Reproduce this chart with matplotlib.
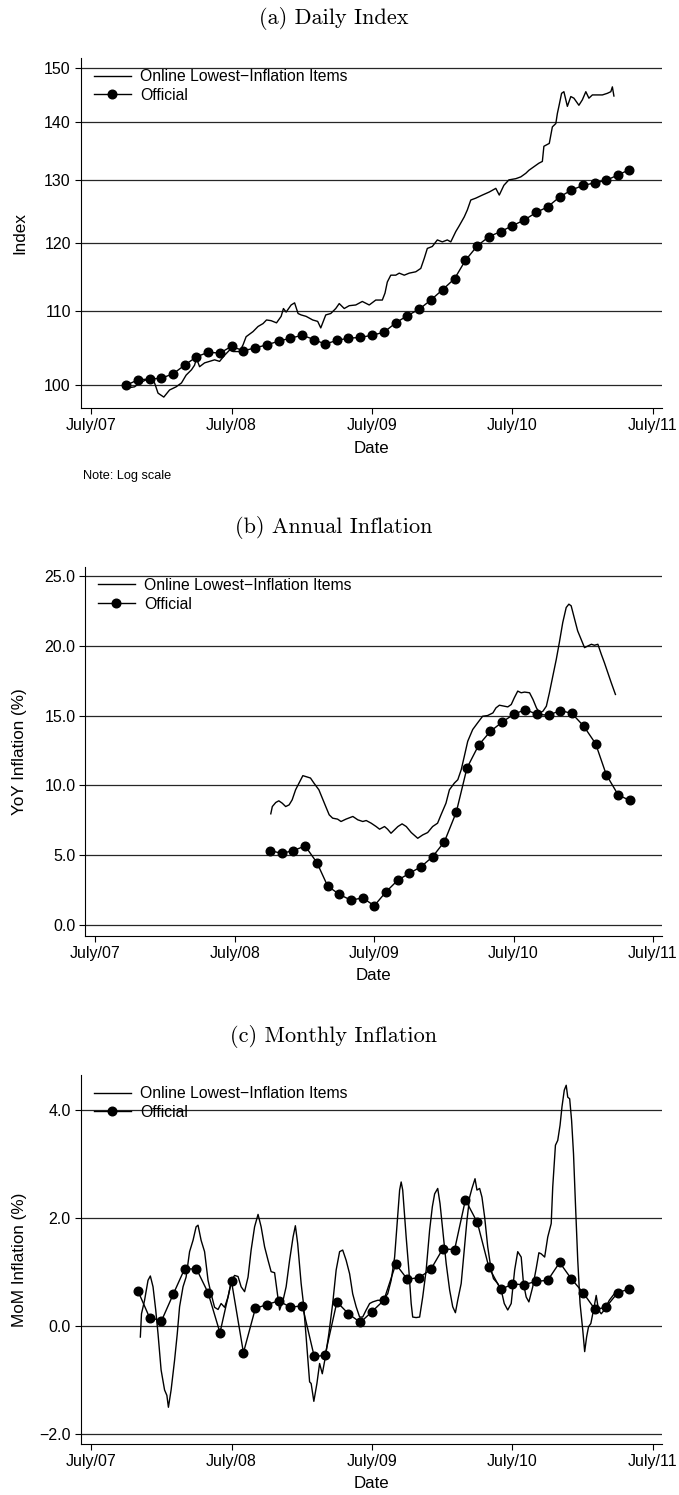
import matplotlib
matplotlib.use('Agg')
import matplotlib.pyplot as plt
from matplotlib.ticker import FixedLocator, FixedFormatter, NullLocator
import pandas as pd
from datetime import datetime

plt.rcParams['font.family'] = ['Liberation Sans', 'DejaVu Sans']

W, H = 679, 1495

# ---------------- data ----------------
x_tick_dates = ['2007-07-01', '2008-07-01', '2009-07-01', '2010-07-01', '2011-07-01']
x_tick_labels = ['July/07', 'July/08', 'July/09', 'July/10', 'July/11']

# (a) daily index, online (log scale)
index_dates = [
    '2007-10-01', '2007-10-10', '2007-10-23', '2007-11-05', '2007-12-01', '2007-12-14',
    '2007-12-23', '2008-01-07', '2008-01-22', '2008-02-08', '2008-02-22', '2008-03-05',
    '2008-03-19', '2008-03-27', '2008-04-01', '2008-04-09', '2008-04-22', '2008-05-05',
    '2008-05-18', '2008-05-31', '2008-06-13', '2008-06-26', '2008-07-05', '2008-07-22',
    '2008-07-31', '2008-08-08', '2008-08-26', '2008-09-08', '2008-09-21', '2008-09-30',
    '2008-10-12', '2008-10-26', '2008-11-07', '2008-11-13', '2008-11-20', '2008-12-03',
    '2008-12-12', '2008-12-21', '2008-12-29', '2009-01-11', '2009-01-28', '2009-02-10',
    '2009-02-18', '2009-03-03', '2009-03-16', '2009-03-29', '2009-04-07', '2009-04-20',
    '2009-05-03', '2009-05-20', '2009-06-06', '2009-06-24', '2009-07-11', '2009-07-28',
    '2009-08-04', '2009-08-10', '2009-08-19', '2009-09-01', '2009-09-10', '2009-09-23',
    '2009-10-06', '2009-10-23', '2009-11-05', '2009-11-14', '2009-11-22', '2009-12-05',
    '2009-12-18', '2009-12-31', '2010-01-13', '2010-01-22', '2010-02-04', '2010-02-12',
    '2010-02-26', '2010-03-06', '2010-03-15', '2010-03-28', '2010-04-14', '2010-05-02',
    '2010-05-19', '2010-05-28', '2010-06-09', '2010-06-22', '2010-07-10', '2010-07-23',
    '2010-08-05', '2010-08-13', '2010-08-26', '2010-09-08', '2010-09-17', '2010-09-21',
    '2010-10-05', '2010-10-13', '2010-10-22', '2010-10-26', '2010-10-30', '2010-11-06',
    '2010-11-12', '2010-11-21', '2010-11-30', '2010-12-08', '2010-12-21', '2010-12-30',
    '2011-01-08', '2011-01-16', '2011-01-25', '2011-02-07', '2011-02-20', '2011-03-05',
    '2011-03-14', '2011-03-18', '2011-03-22']
index_online = [
    100.0, 99.7, 99.8, 100.3, 100.9, 100.3,
    99.0, 98.5, 99.4, 99.8, 100.3, 101.3,
    102.0, 102.6, 103.5, 102.4, 102.9, 103.1,
    103.3, 103.1, 103.9, 104.6, 104.4, 104.4,
    105.3, 106.4, 107.1, 107.8, 108.2, 108.7,
    108.6, 108.3, 109.2, 110.3, 109.8, 110.8,
    111.1, 109.6, 109.4, 109.2, 108.7, 108.5,
    107.6, 109.4, 109.6, 110.3, 111.0, 110.3,
    110.7, 110.8, 111.3, 110.8, 111.5, 111.5,
    112.5, 114.1, 115.1, 115.1, 115.4, 115.1,
    115.4, 115.6, 116.1, 117.6, 119.1, 119.4,
    120.4, 120.1, 120.4, 120.1, 121.7, 122.5,
    124.0, 125.1, 126.7, 127.0, 127.5, 128.0,
    128.6, 127.5, 129.1, 130.0, 130.2, 130.5,
    131.1, 131.6, 132.2, 132.8, 133.1, 135.7,
    136.2, 139.1, 139.7, 141.5, 142.8, 145.2,
    145.5, 142.8, 144.6, 144.3, 143.0, 144.0,
    145.5, 144.3, 144.9, 144.9, 144.9, 145.2,
    145.5, 146.4, 144.7]
index_official_start = '2007-10-01'
index_official = [
    100.0, 100.7, 100.8, 100.9, 101.5, 102.6, 103.7, 104.3, 104.2, 105.1, 104.5,
    104.9, 105.3, 105.8, 106.2, 106.6, 106.0, 105.4, 105.9, 106.2, 106.3, 106.6,
    107.0, 108.3, 109.3, 110.2, 111.5, 113.0, 114.6, 117.3, 119.5, 120.9, 121.7,
    122.6, 123.5, 124.7, 125.6, 127.2, 128.3, 129.1, 129.5, 129.9, 130.8, 131.7]
index_ticks = [100, 110, 120, 130, 140, 150]
index_tick_labels = ['100', '110', '120', '130', '140', '150']

# (b) annual inflation
yoy_dates = [
    '2008-10-03', '2008-10-07', '2008-10-16', '2008-10-24', '2008-11-02', '2008-11-11',
    '2008-11-20', '2008-11-28', '2008-12-07', '2008-12-16', '2008-12-26', '2009-01-07',
    '2009-01-15', '2009-01-24', '2009-02-06', '2009-02-15', '2009-02-24', '2009-03-05',
    '2009-03-14', '2009-03-27', '2009-04-05', '2009-04-18', '2009-05-06', '2009-05-19',
    '2009-06-01', '2009-06-10', '2009-06-23', '2009-07-06', '2009-07-15', '2009-07-28',
    '2009-08-05', '2009-08-14', '2009-08-23', '2009-09-01', '2009-09-12', '2009-09-23',
    '2009-10-06', '2009-10-23', '2009-11-05', '2009-11-18', '2009-12-01', '2009-12-14',
    '2009-12-23', '2010-01-05', '2010-01-14', '2010-01-27', '2010-02-05', '2010-02-14',
    '2010-02-22', '2010-03-03', '2010-03-16', '2010-03-29', '2010-04-11', '2010-04-24',
    '2010-05-08', '2010-05-16', '2010-05-25', '2010-06-07', '2010-06-16', '2010-06-25',
    '2010-07-03', '2010-07-12', '2010-07-21', '2010-07-30', '2010-08-12', '2010-08-21',
    '2010-08-30', '2010-09-07', '2010-09-16', '2010-09-25', '2010-10-03', '2010-10-12',
    '2010-10-21', '2010-10-29', '2010-11-07', '2010-11-16', '2010-11-23', '2010-11-29',
    '2010-12-08', '2010-12-16', '2010-12-25', '2011-01-03', '2011-01-12', '2011-01-21',
    '2011-01-29', '2011-02-07', '2011-02-16', '2011-02-24', '2011-03-05', '2011-03-14',
    '2011-03-25']
yoy_online = [
    7.97, 8.49, 8.78, 8.90, 8.73, 8.49,
    8.61, 8.97, 9.69, 10.17, 10.70, 10.60,
    10.53, 10.17, 9.69, 9.09, 8.49, 7.90,
    7.66, 7.59, 7.42, 7.59, 7.78, 7.54,
    7.42, 7.49, 7.30, 7.06, 6.87, 7.06,
    6.87, 6.58, 6.82, 7.06, 7.25, 7.06,
    6.63, 6.22, 6.46, 6.63, 7.06, 7.30,
    7.90, 8.73, 9.69, 10.17, 10.41, 11.13,
    12.08, 13.16, 14.00, 14.48, 14.95, 15.00,
    15.19, 15.55, 15.74, 15.67, 15.62, 15.79,
    16.27, 16.75, 16.63, 16.68, 16.63, 16.15,
    15.55, 15.19, 15.31, 15.67, 16.63, 17.83,
    19.02, 20.22, 21.66, 22.73, 22.97, 22.85,
    21.90, 21.06, 20.46, 19.86, 19.98, 20.10,
    20.03, 20.10, 19.38, 18.79, 18.07, 17.35,
    16.51]
yoy_official_start = '2008-10-01'
yoy_official = [
    5.34, 5.14, 5.34, 5.67, 4.47, 2.80, 2.20, 1.79, 1.96, 1.39, 2.39,
    3.23, 3.71, 4.19, 4.90, 5.98, 8.09, 11.25, 12.90, 13.86, 14.53, 15.08,
    15.43, 15.08, 15.03, 15.36, 15.15, 14.24, 12.99, 10.77, 9.33, 8.93]
yoy_ticks = [0, 5, 10, 15, 20, 25]
yoy_tick_labels = ['0.0', '5.0', '10.0', '15.0', '20.0', '25.0']

# (c) monthly inflation
mom_dates = [
    '2007-11-07', '2007-11-10', '2007-11-18', '2007-11-27', '2007-12-03', '2007-12-10',
    '2007-12-17', '2007-12-23', '2007-12-31', '2008-01-09', '2008-01-15', '2008-01-19',
    '2008-01-26', '2008-02-04', '2008-02-11', '2008-02-17', '2008-02-26', '2008-03-05',
    '2008-03-14', '2008-03-23', '2008-03-31', '2008-04-05', '2008-04-13', '2008-04-22',
    '2008-05-01', '2008-05-09', '2008-05-18', '2008-05-27', '2008-06-04', '2008-06-13',
    '2008-06-22', '2008-07-01', '2008-07-09', '2008-07-18', '2008-07-26', '2008-08-04',
    '2008-08-13', '2008-08-21', '2008-08-30', '2008-09-08', '2008-09-16', '2008-09-25',
    '2008-10-04', '2008-10-12', '2008-10-21', '2008-11-03', '2008-11-12', '2008-11-20',
    '2008-11-29', '2008-12-08', '2008-12-14', '2008-12-20', '2008-12-29', '2009-01-04',
    '2009-01-11', '2009-01-20', '2009-01-24', '2009-01-31', '2009-02-08', '2009-02-15',
    '2009-02-22', '2009-03-02', '2009-03-11', '2009-03-21', '2009-03-30', '2009-04-08',
    '2009-04-16', '2009-04-25', '2009-05-04', '2009-05-12', '2009-05-21', '2009-05-30',
    '2009-06-07', '2009-06-16', '2009-06-25', '2009-07-03', '2009-07-16', '2009-07-29',
    '2009-08-11', '2009-08-20', '2009-08-29', '2009-09-05', '2009-09-11', '2009-09-15',
    '2009-09-19', '2009-09-28', '2009-10-05', '2009-10-11', '2009-10-15', '2009-10-24',
    '2009-11-02', '2009-11-10', '2009-11-19', '2009-11-28', '2009-12-05', '2009-12-11',
    '2009-12-19', '2009-12-25', '2010-01-01', '2010-01-10', '2010-01-19', '2010-01-27',
    '2010-02-03', '2010-02-09', '2010-02-18', '2010-02-25', '2010-03-05', '2010-03-12',
    '2010-03-18', '2010-03-26', '2010-03-31', '2010-04-07', '2010-04-13', '2010-04-20',
    '2010-04-28', '2010-05-07', '2010-05-13', '2010-05-24', '2010-06-02', '2010-06-10',
    '2010-06-19', '2010-06-28', '2010-07-07', '2010-07-15', '2010-07-24', '2010-07-30',
    '2010-08-06', '2010-08-13', '2010-08-23', '2010-09-01', '2010-09-08', '2010-09-14',
    '2010-09-23', '2010-10-01', '2010-10-10', '2010-10-14', '2010-10-21', '2010-10-27',
    '2010-11-02', '2010-11-07', '2010-11-13', '2010-11-18', '2010-11-22', '2010-11-27',
    '2010-12-02', '2010-12-07', '2010-12-12', '2010-12-18', '2010-12-24', '2010-12-31',
    '2011-01-05', '2011-01-10', '2011-01-15', '2011-01-21', '2011-01-28', '2011-02-04',
    '2011-02-10', '2011-02-17', '2011-02-25', '2011-03-10', '2011-03-23']
mom_online = [
    -0.20, 0.23, 0.48, 0.85, 0.93, 0.73,
    0.30, -0.14, -0.81, -1.18, -1.28, -1.50,
    -1.18, -0.63, -0.14, 0.36, 0.73, 0.91,
    1.38, 1.59, 1.84, 1.87, 1.59, 1.38,
    0.85, 0.60, 0.35, 0.31, 0.42, 0.35,
    0.54, 0.85, 0.94, 0.92, 0.73, 0.64,
    0.91, 1.41, 1.84, 2.07, 1.84, 1.47,
    1.22, 1.01, 0.99, 0.30, 0.48, 0.73,
    1.22, 1.65, 1.86, 1.53, 0.79, 0.42,
    -0.20, -1.03, -1.06, -1.39, -1.06, -0.69,
    -0.88, -0.57, -0.14, 0.42, 1.04, 1.38,
    1.41, 1.22, 0.97, 0.60, 0.36, 0.17,
    0.17, 0.30, 0.42, 0.45, 0.48, 0.48,
    0.60, 0.85, 1.28, 1.96, 2.52, 2.67,
    2.52, 1.65, 1.04, 0.42, 0.17, 0.16,
    0.17, 0.54, 1.04, 1.78, 2.21, 2.45,
    2.55, 2.27, 1.78, 1.16, 0.67, 0.36,
    0.25, 0.48, 0.79, 1.34, 1.96, 2.39,
    2.55, 2.73, 2.52, 2.55, 2.39, 2.02,
    1.47, 1.04, 0.88, 0.79, 0.67, 0.42,
    0.30, 0.42, 1.04, 1.38, 1.28, 0.79,
    0.54, 0.45, 0.73, 1.07, 1.36, 1.34,
    1.28, 1.65, 1.90, 2.58, 3.35, 3.44,
    3.72, 4.06, 4.37, 4.46, 4.24, 4.21,
    3.81, 3.19, 2.27, 1.22, 0.42, -0.07,
    -0.47, -0.20, -0.01, 0.05, 0.30, 0.57,
    0.30, 0.23, 0.30, 0.48, 0.60]
mom_official_start = '2007-11-01'
mom_official = [
    0.65, 0.16, 0.10, 0.60, 1.06, 1.06, 0.62, -0.12, 0.83, -0.49, 0.33,
    0.40, 0.47, 0.35, 0.38, -0.56, -0.54, 0.45, 0.23, 0.07, 0.27, 0.48,
    1.15, 0.87, 0.90, 1.05, 1.43, 1.42, 2.34, 1.92, 1.09, 0.68, 0.78,
    0.77, 0.83, 0.85, 1.18, 0.88, 0.62, 0.31, 0.35, 0.62, 0.69]
mom_ticks = [-2, 0, 2, 4]
mom_tick_labels = ['\u22122.0', '0.0', '2.0', '4.0']

online_label = 'Online Lowest\u2212Inflation Items'
official_label = 'Official'

fig = plt.figure(figsize=(W / 100, H / 100), dpi=100)


def draw_panel(rect, title, title_y, line_dates, line_vals, off_start, off_vals,
               yticks, ylabels, ylim, ylabel, log=False):
    l, t, r, b = rect
    ax = fig.add_axes([l / W, 1 - b / H, (r - l) / W, (b - t) / H])

    off_dates = pd.date_range(off_start, periods=len(off_vals), freq='MS')
    ax.plot(pd.to_datetime(line_dates), line_vals, color='black', lw=1.0, label=online_label)
    ax.plot(off_dates, off_vals, color='black', lw=1.0, marker='o', ms=6.2,
            label=official_label)

    if log:
        ax.set_yscale('log')
    ax.yaxis.set_major_locator(FixedLocator(yticks))
    ax.yaxis.set_major_formatter(FixedFormatter(ylabels))
    ax.yaxis.set_minor_locator(NullLocator())
    ax.set_ylim(*ylim)

    ax.set_xticks(pd.to_datetime(x_tick_dates))
    ax.set_xticklabels(x_tick_labels)
    ax.set_xlim(datetime(2007, 6, 5), datetime(2011, 7, 25))

    ax.set_axisbelow(True)
    ax.yaxis.grid(True, color='#262626', lw=0.9)
    for side in ('top', 'right'):
        ax.spines[side].set_visible(False)
    for side in ('left', 'bottom'):
        ax.spines[side].set_linewidth(0.8)
    ax.tick_params(axis='both', direction='out', length=4.1, width=0.8,
                   pad=3, labelsize=11.5)

    ax.set_xlabel('Date', fontsize=12.2)
    ax.xaxis.label.set_va('center')
    ax.xaxis.set_label_coords(0.5, -(40.0 if log else 39.3) / (b - t))
    ax.set_ylabel(ylabel, fontsize=12.3)
    ax.yaxis.label.set_va('center')
    ax.yaxis.set_label_coords((20 - l) / (r - l), 0.5)

    ax.legend(loc='upper left', bbox_to_anchor=((94 - l + (4 if l > 83 else 0)) / (r - l), 1 - 11 / (b - t)),
              frameon=False, fontsize=11.3, handlelength=2.35, handletextpad=0.6,
              labelspacing=0.25, borderpad=0, borderaxespad=0)

    fig.text(334 / W, 1 - title_y / H, title, family='cmr10', fontsize=16,
             ha='center', va='center')
    return ax


draw_panel((80.7, 58, 662, 408.3), '(a) Daily Index', 18,
           index_dates, index_online, index_official_start, index_official,
           index_ticks, index_tick_labels, (97.1, 151.9), 'Index', log=True)
fig.text(83.3 / W, 1 - 475.7 / H, 'Note: Log scale', fontsize=9.15, ha='left', va='center')

draw_panel((85.3, 566.7, 662, 935.7), '(b) Annual Inflation', 528,
           yoy_dates, yoy_online, yoy_official_start, yoy_official,
           yoy_ticks, yoy_tick_labels, (-0.75, 25.65), 'YoY Inflation (%)')

draw_panel((80.7, 1075, 662, 1444), '(c) Monthly Inflation', 1036,
           mom_dates, mom_online, mom_official_start, mom_official,
           mom_ticks, mom_tick_labels, (-2.18, 4.65), 'MoM Inflation (%)')

fig.savefig('out.png', dpi=100)
